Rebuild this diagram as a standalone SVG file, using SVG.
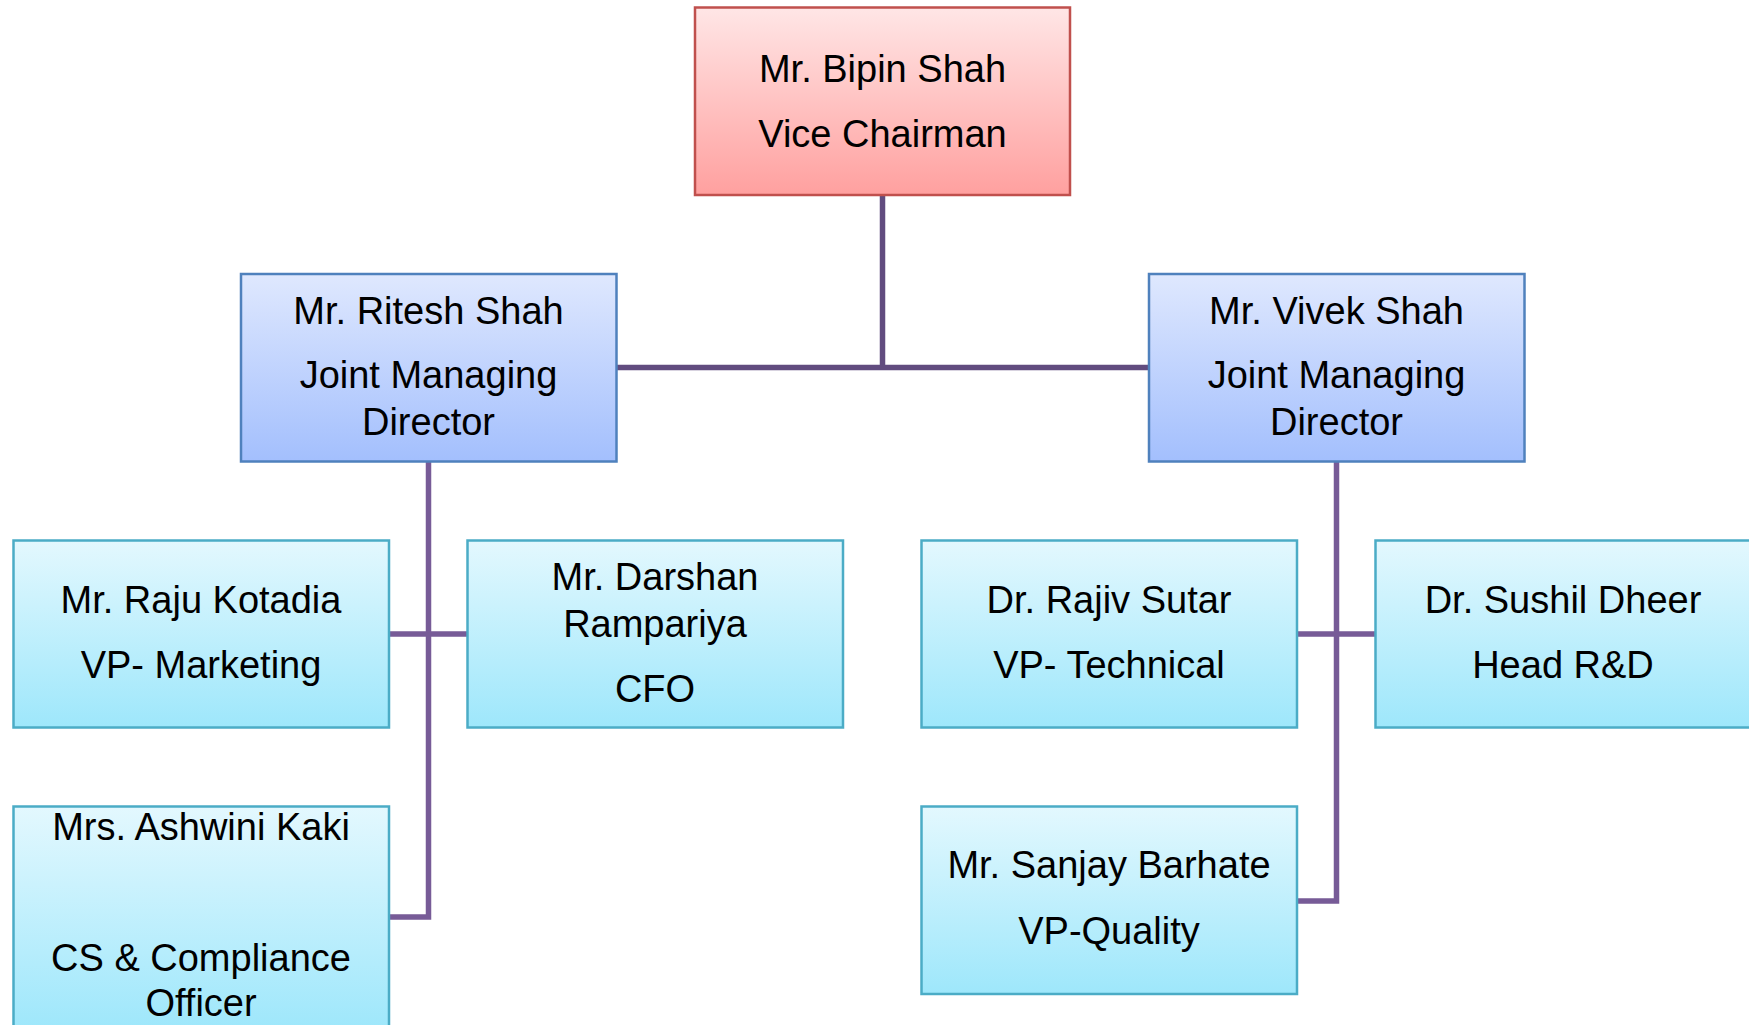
<svg xmlns="http://www.w3.org/2000/svg" width="1749" height="1025" viewBox="0 0 1749 1025">
<defs>
<linearGradient id="gRed" x1="0" y1="0" x2="0" y2="1"><stop offset="0" stop-color="#FFE6E6"/><stop offset="1" stop-color="#FFA09F"/></linearGradient>
<linearGradient id="gBlue" x1="0" y1="0" x2="0" y2="1"><stop offset="0" stop-color="#DFE8FE"/><stop offset="1" stop-color="#A3BFFD"/></linearGradient>
<linearGradient id="gCyan" x1="0" y1="0" x2="0" y2="1"><stop offset="0" stop-color="#E3F8FE"/><stop offset="1" stop-color="#9EE7FB"/></linearGradient>
<style>
.red{fill:url(#gRed);stroke:#C0504D;stroke-width:2.5}
.blue{fill:url(#gBlue);stroke:#4F81BD;stroke-width:2.5}
.cyan{fill:url(#gCyan);stroke:#4BACC6;stroke-width:2.5}
text{font-family:"Liberation Sans",Arial,sans-serif;font-size:38px;fill:#000;text-anchor:middle}
.c1{fill:none;stroke:#614C7F;stroke-width:5.5}
.c2{fill:none;stroke:#775B97;stroke-width:5.5}
</style>
</defs>
<g id="connectors">
<path class="c1" d="M882.5 195 V367.5 M616 367.5 H1149"/>
<path class="c2" d="M428.5 461 V917 H389 M389 634 H467"/>
<path class="c2" d="M1336.5 461 V901 H1297 M1297 634 H1375"/>
</g>
<g id="bipin"><rect class="red" x="695" y="7.5" width="375" height="187.5"/><text x="882.5" y="81.5">Mr. Bipin Shah</text><text x="882.5" y="146.5">Vice Chairman</text></g>
<g id="ritesh"><rect class="blue" x="241" y="274" width="375.5" height="187.5"/><text x="428.5" y="324">Mr. Ritesh Shah</text><text x="428.5" y="388">Joint Managing</text><text x="428.5" y="435">Director</text></g>
<g id="vivek"><rect class="blue" x="1149" y="274" width="375.5" height="187.5"/><text x="1336.5" y="324">Mr. Vivek Shah</text><text x="1336.5" y="388">Joint Managing</text><text x="1336.5" y="435">Director</text></g>
<g id="raju"><rect class="cyan" x="13.5" y="540.5" width="375.5" height="187"/><text x="201" y="613">Mr. Raju Kotadia</text><text x="201" y="678">VP- Marketing</text></g>
<g id="darshan"><rect class="cyan" x="467.5" y="540.5" width="375.5" height="187"/><text x="655" y="590">Mr. Darshan</text><text x="655" y="636.5">Rampariya</text><text x="655" y="701.5">CFO</text></g>
<g id="rajiv"><rect class="cyan" x="921.5" y="540.5" width="375.5" height="187"/><text x="1109" y="613">Dr. Rajiv Sutar</text><text x="1109" y="678">VP- Technical</text></g>
<g id="sushil"><rect class="cyan" x="1375.5" y="540.5" width="375.5" height="187"/><text x="1563" y="613">Dr. Sushil Dheer</text><text x="1563" y="678">Head R&amp;D</text></g>
<g id="ashwini"><rect class="cyan" x="13.5" y="806.5" width="375.5" height="224"/><text x="201" y="840">Mrs. Ashwini Kaki</text><text x="201" y="970.5">CS &amp; Compliance</text><text x="201" y="1015.5">Officer</text></g>
<g id="sanjay"><rect class="cyan" x="921.5" y="806.5" width="375.5" height="187.5"/><text x="1109" y="878">Mr. Sanjay Barhate</text><text x="1109" y="944">VP-Quality</text></g>
</svg>
